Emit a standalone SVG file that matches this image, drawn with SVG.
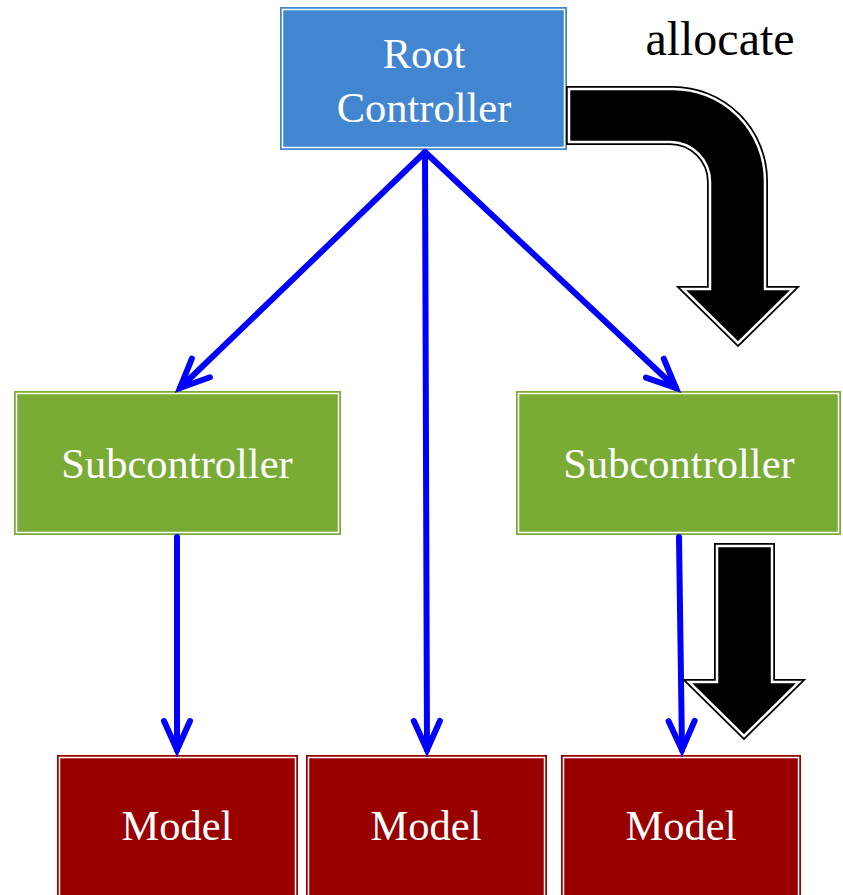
<svg xmlns="http://www.w3.org/2000/svg" width="843" height="895" viewBox="0 0 843 895">
<style>
.lbl{font-family:"Liberation Serif","Times New Roman",serif;font-size:42.5px;fill:#fff;text-anchor:middle}
.inner{fill:none;stroke:#fff;stroke-width:1.5}
.conn{stroke:#0000ff;stroke-width:6;fill:none;stroke-linecap:round}
.bigO{fill:none;stroke:#000;stroke-width:6;stroke-linejoin:miter}
.bigI{fill:#000;stroke:#fff;stroke-width:2.5;stroke-linejoin:miter}
</style>
<defs>
<marker id="ah" markerUnits="userSpaceOnUse" viewBox="-40 -20 50 40" markerWidth="50" markerHeight="40" refX="0" refY="0" orient="auto">
<path d="M-29,-13 L0,0 L-29,13" fill="none" stroke="#0000ff" stroke-width="6" stroke-linecap="round" stroke-linejoin="miter"/>
</marker>
</defs>
<rect width="843" height="895" fill="#fff"/>
<g id="root">
<rect x="280.5" y="7.5" width="286" height="142" fill="#4285d0" stroke="#4285d0"/>
<rect x="282.5" y="9.5" width="282" height="138" class="inner"/>
<text class="lbl" x="424" y="68">Root</text>
<text class="lbl" x="424" y="122">Controller</text>
</g>
<g id="sub1">
<rect x="14.5" y="391.5" width="326" height="143" fill="#7aab35" stroke="#7aab35"/>
<rect x="16.5" y="393.5" width="322" height="139" class="inner"/>
<text class="lbl" x="177" y="478">Subcontroller</text>
</g>
<g id="sub2">
<rect x="516.5" y="391.5" width="324" height="143" fill="#7aab35" stroke="#7aab35"/>
<rect x="518.5" y="393.5" width="320" height="139" class="inner"/>
<text class="lbl" x="679" y="478">Subcontroller</text>
</g>
<g id="model1">
<rect x="57.5" y="755.5" width="240" height="145" fill="#990000" stroke="#990000"/>
<rect x="59.5" y="757.5" width="236" height="145" class="inner"/>
<text class="lbl" x="177" y="840">Model</text>
</g>
<g id="model2">
<rect x="306.5" y="755.5" width="240" height="145" fill="#990000" stroke="#990000"/>
<rect x="308.5" y="757.5" width="236" height="145" class="inner"/>
<text class="lbl" x="426" y="840">Model</text>
</g>
<g id="model3">
<rect x="561.5" y="755.5" width="239" height="145" fill="#990000" stroke="#990000"/>
<rect x="563.5" y="757.5" width="235" height="145" class="inner"/>
<text class="lbl" x="681" y="840">Model</text>
</g>
<g id="allocate-label">
<text x="720" y="55" font-family="'Liberation Serif','Times New Roman',serif" font-size="48" fill="#000" text-anchor="middle">allocate</text>
</g>
<g id="connectors">
<line class="conn" x1="425" y1="152" x2="180" y2="388" marker-end="url(#ah)"/>
<line class="conn" x1="425" y1="152" x2="427" y2="750" marker-end="url(#ah)"/>
<line class="conn" x1="425" y1="152" x2="676" y2="388" marker-end="url(#ah)"/>
<line class="conn" x1="177" y1="537" x2="177" y2="750" marker-end="url(#ah)"/>
<line class="conn" x1="679" y1="537" x2="682" y2="750" marker-end="url(#ah)"/>
</g>
<g id="allocate-arrows">
<path class="bigO" d="M569,89 L673,89 A92,92 0 0 1 765,181 L765,289 L793,289 L738,343 L683,289 L710,289 L710,182 A40,40 0 0 0 670,142 L569,142 Z"/>
<path class="bigI" d="M569,89 L673,89 A92,92 0 0 1 765,181 L765,289 L793,289 L738,343 L683,289 L710,289 L710,182 A40,40 0 0 0 670,142 L569,142 Z"/>
<path class="bigO" d="M717,546 L772,546 L772,682 L799,682 L744,736 L689,682 L717,682 Z"/>
<path class="bigI" d="M717,546 L772,546 L772,682 L799,682 L744,736 L689,682 L717,682 Z"/>
</g>
</svg>
